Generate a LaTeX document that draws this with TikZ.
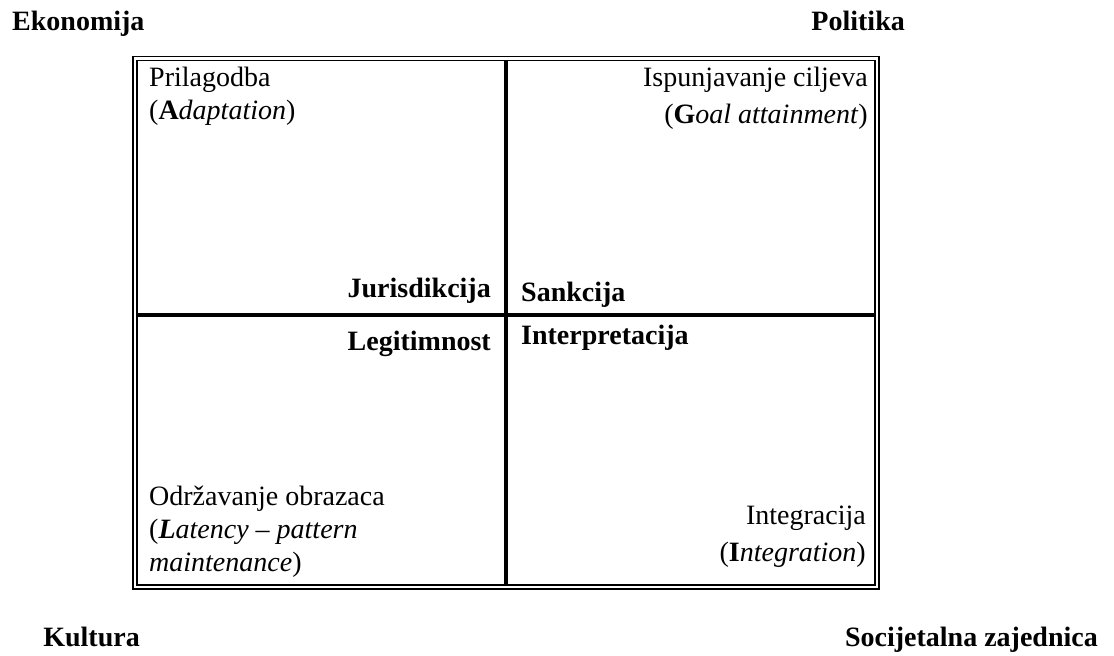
\documentclass[tikz,border=0pt]{standalone}
\usepackage{fontspec}
\setmainfont{Liberation Serif}
\usetikzlibrary{positioning}

\tikzset{
  sector/.style={font=\fontsize{28}{33}\selectfont, inner sep=0pt},
  corner/.style={font=\fontsize{28}{33}\selectfont\bfseries, inner sep=0pt},
  frame/.style={line width=1.6pt},
  cross/.style={line width=4pt}
}

\begin{document}
\begin{tikzpicture}[x=1pt,y=-1pt]
		%%%%% FRAME %%%%%
		\useasboundingbox (0,0) rectangle (1114,656);
		
		\draw[frame] (133,56.5) rectangle (879,589);
		\draw[frame] (137,60.5) rectangle (875,585);
		
		\coordinate (top) at (505.5,60.5);
		\coordinate (bot) at (505.5,585);
		\coordinate (lft) at (137,314.5);
		\coordinate (rgt) at (875,314.5);
		\draw[cross] (top) -- (bot);
		\draw[cross] (lft) -- (rgt);
		
		%%%%% CORNERS %%%%%
		\node[corner, anchor=base west] (eko) at (12,30) {Ekonomija};
		\node[corner, anchor=base east] (pol) at (905,30) {Politika};
		\node[corner, anchor=base east] (kul) at (140,646) {Kultura};
		\node[corner, anchor=base east] (soc) at (1098,646) {Socijetalna zajednica};
		
		%%%%% QUADRANTS %%%%%
		\node[sector, anchor=base west] (pri) at (149,86) {Prilagodba};
		\node[sector, anchor=base west] (ada) at (149,119) {(\textbf{A}\textit{daptation})};
		
		\node[sector, anchor=base east] (isp) at (868,86) {Ispunjavanje ciljeva};
		\node[sector, anchor=base east] (goa) at (868,123) {(\textbf{G}\textit{oal attainment})};
		
		\node[sector, anchor=base west] (odr) at (149,505) {Održavanje obrazaca};
		\node[sector, anchor=base west] (lat) at (149,538) {(\textbf{\textit{L}}\textit{atency} -- \textit{pattern}};
		\node[sector, anchor=base west] (mai) at (149,571) {\textit{maintenance})};
		
		\node[sector, anchor=base east] (int) at (866,524) {Integracija};
		\node[sector, anchor=base east] (itg) at (866,561) {(\textbf{I}\textit{ntegration})};
		
		%%%%% MEDIA %%%%%
		\node[corner, anchor=base east] (jur) at (491,297) {Jurisdikcija};
		\node[corner, anchor=base west] (san) at (521,301) {Sankcija};
		\node[corner, anchor=base east] (leg) at (491,350) {Legitimnost};
		\node[corner, anchor=base west] (ipr) at (521,344) {Interpretacija};
		
		%%%%% END %%%%%
\end{tikzpicture}
\end{document}
